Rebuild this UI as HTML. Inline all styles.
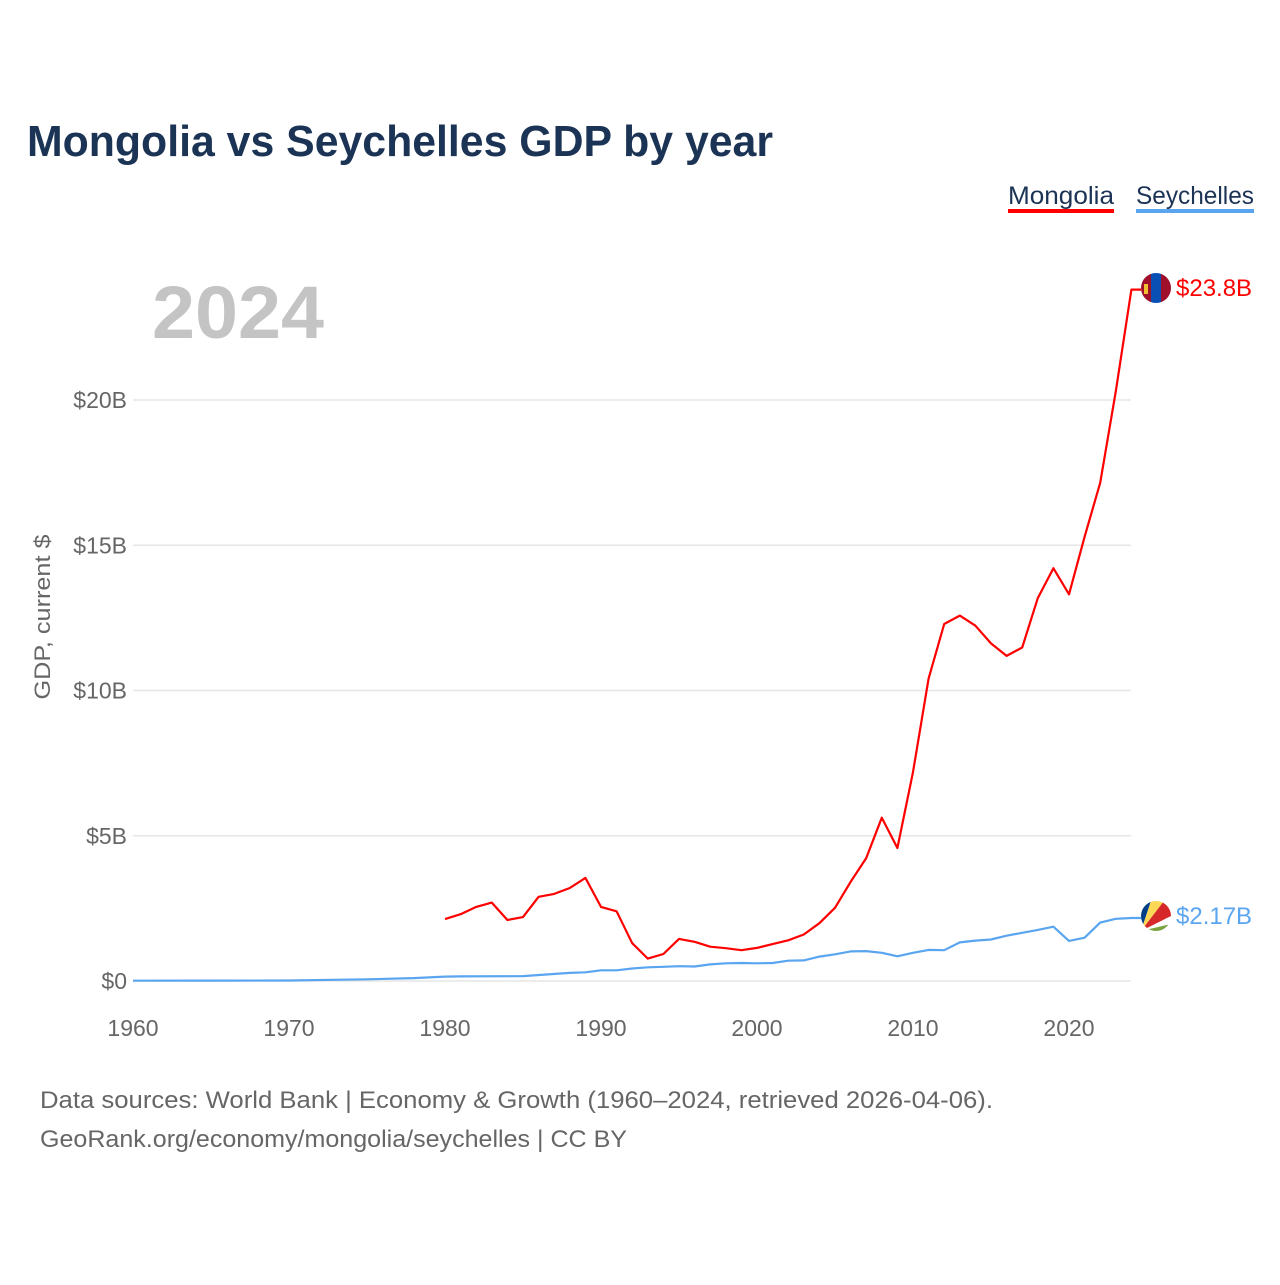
<!DOCTYPE html>
<html><head><meta charset="utf-8"><style>
body{margin:0;background:#fff;font-family:"Liberation Sans",sans-serif}
</style></head><body>
<svg id="chart" width="1280" height="1280" viewBox="0 0 1280 1280">
<rect width="1280" height="1280" fill="#fff"/>
<text x="27" y="156" font-size="44" font-weight="bold" fill="#1b3354" textLength="746" lengthAdjust="spacingAndGlyphs">Mongolia vs Seychelles GDP by year</text>
<g>
<text x="1008" y="204" font-size="25" fill="#1b3354" textLength="106" lengthAdjust="spacingAndGlyphs">Mongolia</text>
<rect x="1008" y="209" width="106" height="4" fill="#ff0000"/>
<text x="1136" y="204" font-size="25" fill="#1b3354" textLength="118" lengthAdjust="spacingAndGlyphs">Seychelles</text>
<rect x="1136" y="209" width="118" height="4" fill="#5aa5f0"/>
</g>
<text x="152" y="338" font-size="74" font-weight="bold" fill="#c4c4c4" textLength="172" lengthAdjust="spacingAndGlyphs">2024</text>
<text transform="translate(50,617) rotate(-90)" text-anchor="middle" font-size="22" fill="#666" textLength="165" lengthAdjust="spacingAndGlyphs">GDP, current $</text>
<g id="grid"></g><g id="xt"></g><g id="lines"></g>
<text x="40" y="1108" font-size="24" fill="#666" textLength="953" lengthAdjust="spacingAndGlyphs">Data sources: World Bank | Economy &amp; Growth (1960–2024, retrieved 2026-04-06).</text>
<text x="40" y="1147" font-size="24" fill="#666" textLength="587" lengthAdjust="spacingAndGlyphs">GeoRank.org/economy/mongolia/seychelles | CC BY</text>
<defs><clipPath id="cf"><circle cx="0" cy="0" r="15"/></clipPath></defs>
<g transform="translate(1156,288)" clip-path="url(#cf)">
<rect x="-15" y="-15" width="10" height="30" fill="#a0102a"/><rect x="-5" y="-15" width="10" height="30" fill="#0a50b4"/><rect x="5" y="-15" width="10" height="30" fill="#a0102a"/><rect x="-12" y="-4" width="4" height="10" fill="#f0c030"/></g>
<g transform="translate(1156,916)" clip-path="url(#cf)">
<rect x="-15" y="-15" width="30" height="30" fill="#fff"/>
<polygon points="-15,15 -15,-15 -5,-15" fill="#003f87"/><polygon points="-15,15 -5,-15 8,-15" fill="#fcd856"/><polygon points="-15,15 8,-15 15,-15 15,0" fill="#d62828"/><polygon points="-15,15 15,8 15,15" fill="#7aa33d"/></g>
<text x="1176" y="296" font-size="24" fill="#ff0000">$23.8B</text>
<text x="1176" y="924" font-size="24" fill="#5aa5f0">$2.17B</text>
</svg>
<script>
const yTicks=[0,5,10,15,20];
const yTickLabels=["$0","$5B","$10B","$15B","$20B"];
const xTicks=[1960,1970,1980,1990,2000,2010,2020];
const mongoliaYears=[1980,1981,1982,1983,1984,1985,1986,1987,1988,1989,1990,1991,1992,1993,1994,1995,1996,1997,1998,1999,2000,2001,2002,2003,2004,2005,2006,2007,2008,2009,2010,2011,2012,2013,2014,2015,2016,2017,2018,2019,2020,2021,2022,2023,2024];
const mongoliaGdp=[2.13,2.3,2.55,2.7,2.1,2.2,2.9,3.0,3.2,3.55,2.55,2.4,1.3,0.77,0.93,1.45,1.35,1.18,1.13,1.06,1.14,1.27,1.4,1.6,1.99,2.52,3.41,4.23,5.62,4.58,7.19,10.41,12.29,12.58,12.23,11.62,11.19,11.48,13.18,14.21,13.31,15.29,17.15,20.3,23.8];
const seyYears=[1960,1965,1970,1975,1978,1980,1981,1985,1988,1989,1990,1991,1992,1993,1994,1995,1996,1997,1998,1999,2000,2001,2002,2003,2004,2005,2006,2007,2008,2009,2010,2011,2012,2013,2014,2015,2016,2017,2018,2019,2020,2021,2022,2023,2024];
const seyGdp=[0.012,0.015,0.018,0.06,0.1,0.15,0.16,0.17,0.28,0.3,0.37,0.37,0.43,0.47,0.49,0.51,0.5,0.57,0.61,0.62,0.61,0.62,0.7,0.71,0.84,0.92,1.02,1.03,0.97,0.85,0.97,1.07,1.06,1.33,1.39,1.43,1.56,1.66,1.76,1.87,1.38,1.49,2.01,2.14,2.17];
const NS="http://www.w3.org/2000/svg";
const X=y=>133+(y-1960)*15.6;
const Y=v=>981-v*29.05;
function mk(t,a,p){const e=document.createElementNS(NS,t);for(const k in a)e.setAttribute(k,a[k]);p.appendChild(e);return e;}
const grid=document.getElementById('grid');
yTicks.forEach((v,i)=>{
 const l=mk('line',{x1:133,x2:1131,y1:Y(v),y2:Y(v),stroke:'#e6e6e6','stroke-width':1.5},grid);
 
 
 const t=mk('text',{x:127,y:Y(v)+8,'text-anchor':'end','font-size':23,fill:'#666'},grid);
 t.textContent=yTickLabels[i];
 
 
});
const xt=document.getElementById('xt');
xTicks.forEach(v=>{
 const t=mk('text',{x:X(v),y:1036,'text-anchor':'middle','font-size':23,fill:'#666'},xt);
 t.textContent=v;
 
 
});
const lines=document.getElementById('lines');
function path(ys,vs,c,name){
 let d=ys.map((y,i)=>(i?'L':'M')+X(y).toFixed(1)+','+Y(vs[i]).toFixed(1)).join('');
 const last=vs[vs.length-1];
 d+='L1141,'+Y(last).toFixed(1);
 const p=mk('path',{d:d,fill:'none',stroke:c,'stroke-width':2.2,'stroke-linejoin':'round'},lines);
 
 
}
path(seyYears,seyGdp,'#5aa5f0','seychelles-line');
path(mongoliaYears,mongoliaGdp,'#ff0000','mongolia-line');
</script>
</body></html>
